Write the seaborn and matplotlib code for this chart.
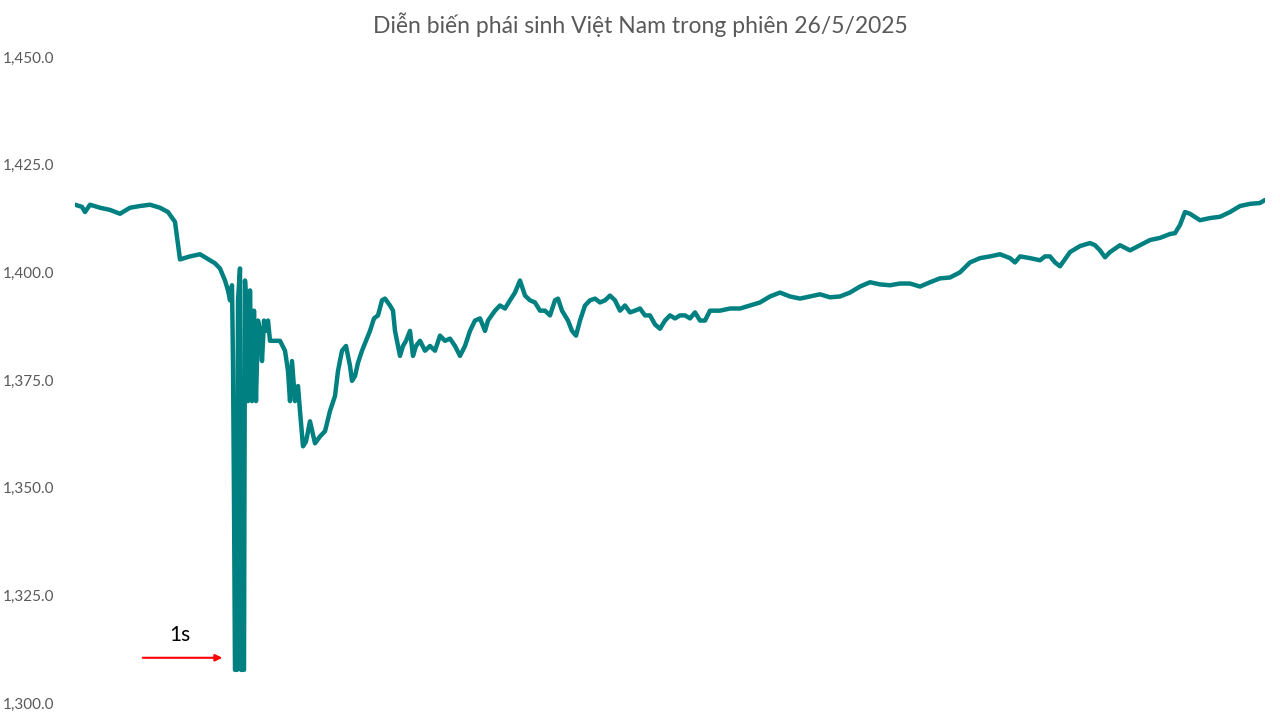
import numpy as np
import pandas as pd
import seaborn as sns
import matplotlib.pyplot as plt
from matplotlib.ticker import FuncFormatter

# Session progress (sample index) and futures price
t = [75, 82, 85, 90, 100, 110, 120, 130, 140, 150, 160, 168, 175, 180, 190, 200, 210, 215, 220,
     225, 228, 230, 232, 233, 234, 235, 237, 238, 240, 241, 244, 245, 247, 248, 250, 252, 254, 256,
     258, 260, 262, 264, 266, 268, 270, 275, 280, 285, 288, 290, 292, 295, 298, 300, 303, 306, 310,
     315, 320, 325, 330, 335, 338, 342, 346, 350, 352, 355, 358, 362, 366, 370, 374, 378, 382, 385,
     390, 393, 395, 398, 400, 403, 406, 410, 413, 416, 420, 425, 430, 435, 440, 445, 450, 455, 460,
     465, 470, 475, 480, 485, 488, 495, 500, 505, 510, 515, 520, 525, 530, 535, 540, 545, 550, 555,
     558, 562, 568, 572, 576, 580, 585, 590, 595, 600, 605, 610, 615, 620, 625, 630, 635, 640, 645,
     650, 655, 660, 665, 670, 675, 680, 685, 690, 695, 700, 705, 710, 720, 730, 740, 750, 760, 770,
     780, 790, 800, 810, 820, 830, 840, 850, 860, 870, 880, 890, 900, 910, 920, 930, 940, 950, 960,
     970, 980, 990, 1000, 1010, 1015, 1020, 1030, 1040, 1045, 1050, 1055, 1060, 1070, 1080, 1090,
     1095, 1100, 1105, 1110, 1120, 1130, 1140, 1150, 1160, 1170, 1175, 1180, 1185, 1190, 1200,
     1210, 1220, 1230, 1240, 1250, 1260, 1265]
price = [1415.7, 1415.2, 1414.0, 1415.7, 1415.0, 1414.5, 1413.6, 1415.0, 1415.4, 1415.7, 1415.0,
         1414.0, 1411.7, 1403.0, 1403.7, 1404.2, 1402.8, 1402.1, 1400.9,
         1398.1, 1395.8, 1393.5, 1397.0, 1379.4, 1346.7, 1307.7, 1307.7, 1393.5, 1400.9, 1307.7,
         1307.7, 1398.1, 1388.8, 1370.1, 1395.8, 1370.1, 1391.1, 1370.1,
         1388.8, 1386.4, 1379.4, 1388.8, 1386.4, 1388.8, 1384.1, 1384.1, 1384.1, 1381.8, 1377.1,
         1370.1, 1379.4, 1370.1, 1373.6, 1367.8, 1359.6, 1360.7, 1365.4,
         1360.3, 1361.9, 1363.1, 1367.8, 1371.3, 1377.1, 1381.8, 1382.9, 1378.3, 1374.8, 1375.9,
         1379.0, 1381.8, 1384.1, 1386.4, 1389.3, 1390.0, 1393.5, 1393.9,
         1392.3, 1391.1, 1386.4, 1382.9, 1380.6, 1382.9, 1384.1, 1386.4, 1380.6, 1382.9, 1384.1,
         1381.8, 1382.9, 1381.8, 1385.3, 1384.1, 1384.6, 1382.9, 1380.6,
         1382.9, 1386.4, 1388.8, 1389.3, 1386.4, 1388.8, 1391.1, 1392.3, 1391.6, 1393.5, 1395.3,
         1398.1, 1394.6, 1393.5, 1393.0, 1391.1, 1391.1, 1390.0, 1393.5,
         1393.9, 1391.1, 1388.8, 1386.4, 1385.3, 1388.8, 1392.3, 1393.5, 1393.9, 1393.0, 1393.5,
         1394.6, 1393.5, 1391.1, 1392.3, 1390.7, 1391.1, 1391.6, 1390.0,
         1390.0, 1387.9, 1386.9, 1388.8, 1390.0, 1389.3, 1390.0, 1390.0, 1389.3, 1390.7, 1388.8,
         1388.8, 1391.1, 1391.1, 1391.6, 1391.6, 1392.3, 1393.0, 1394.4,
         1395.3, 1394.4, 1393.9, 1394.4, 1394.9, 1394.2, 1394.4, 1395.3, 1396.7, 1397.7, 1397.2,
         1397.0, 1397.4, 1397.4, 1396.7, 1397.7, 1398.6, 1398.8, 1400.0,
         1402.3, 1403.3, 1403.7, 1404.2, 1403.3, 1402.3, 1403.7, 1403.3, 1402.8, 1403.7, 1403.7,
         1402.3, 1401.4, 1404.7, 1406.1, 1406.8,
         1406.3, 1405.1, 1403.5, 1404.7, 1406.3, 1405.1, 1406.3, 1407.5, 1408.0, 1408.9, 1409.1,
         1411.0, 1414.0, 1413.6, 1412.1,
         1412.6, 1412.9, 1414.0, 1415.4, 1415.9, 1416.1, 1416.8]

df = pd.DataFrame({'t': t, 'price': price})

sns.set_theme(style='white')
plt.rcParams['font.family'] = ['Lato', 'DejaVu Sans']

fig = plt.figure(figsize=(12.8, 7.2), dpi=100)
ax = fig.add_axes([75 / 1280, 17 / 720, 1190 / 1280, 646 / 720])

sns.lineplot(data=df, x='t', y='price', ax=ax, color='#008080', linewidth=3.2)

ax.set_ylim(1300, 1450)
ax.set_xlim(75, 1265)
ax.set_yticks(np.arange(1300, 1451, 25))
ax.yaxis.set_major_formatter(FuncFormatter(lambda v, p: f'{v:,.1f}'))
ax.tick_params(axis='y', labelsize=11, labelcolor='#595959', length=0, pad=15)
ax.set_xticks([])
ax.set_xlabel('')
ax.set_ylabel('')
for s in ax.spines.values():
    s.set_visible(False)

fig.text(0.5, 1 - 25 / 720, 'Diễn biến phái sinh Việt Nam trong phiên 26/5/2025',
         ha='center', va='center', fontsize=16.5, color='#595959')

ax.annotate('', xy=(225, 1310.5), xytext=(140, 1310.5),
            arrowprops=dict(arrowstyle='-|>', color='red', lw=1.5, mutation_scale=10))
ax.text(180, 1313.5, '1s', ha='center', va='bottom', fontsize=15, color='black')

fig.savefig('out.png', dpi=100)
